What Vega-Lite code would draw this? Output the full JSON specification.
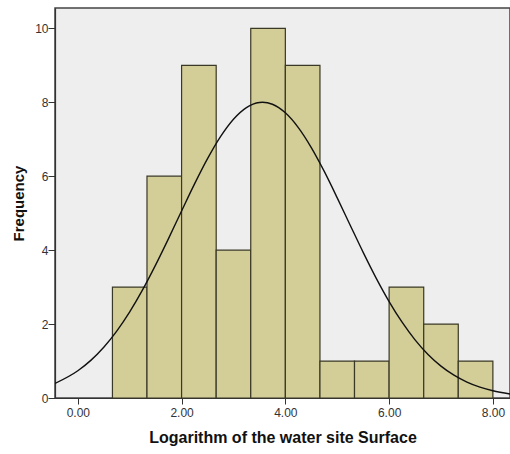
{
  "$schema": "https://vega.github.io/schema/vega-lite/v6.json",
  "width": 455,
  "height": 390,
  "autosize": {"type": "none"},
  "padding": {"left": 55, "top": 8, "right": 0, "bottom": 56},
  "background": "#ffffff",
  "config": {
    "font": "Liberation Sans",
    "view": {"fill": "#eeeeee", "stroke": "#444444", "strokeWidth": 1.5},
    "axis": {
      "grid": false,
      "domainColor": "#333333",
      "domainWidth": 1.2,
      "tickColor": "#333333",
      "tickSize": 6,
      "labelColor": "#333333",
      "labelFont": "Liberation Sans",
      "labelFontSize": 12,
      "titleFont": "Liberation Sans",
      "titleFontWeight": "bold",
      "titleColor": "#111111",
      "titleFontSize": 16
    }
  },
  "datasets": {
    "bins": [
      {"bin_start": 0.667, "bin_end": 1.333, "count": 3},
      {"bin_start": 1.333, "bin_end": 2.0, "count": 6},
      {"bin_start": 2.0, "bin_end": 2.667, "count": 9},
      {"bin_start": 2.667, "bin_end": 3.333, "count": 4},
      {"bin_start": 3.333, "bin_end": 4.0, "count": 10},
      {"bin_start": 4.0, "bin_end": 4.667, "count": 9},
      {"bin_start": 4.667, "bin_end": 5.333, "count": 1},
      {"bin_start": 5.333, "bin_end": 6.0, "count": 1},
      {"bin_start": 6.0, "bin_end": 6.667, "count": 3},
      {"bin_start": 6.667, "bin_end": 7.333, "count": 2},
      {"bin_start": 7.333, "bin_end": 8.0, "count": 1}
    ],
    "normal": [
      {"x": -0.44, "y": 0.394},
      {"x": 0.0, "y": 0.737},
      {"x": 0.25, "y": 1.018},
      {"x": 0.5, "y": 1.374},
      {"x": 0.75, "y": 1.81},
      {"x": 1.0, "y": 2.33},
      {"x": 1.25, "y": 2.93},
      {"x": 1.5, "y": 3.6},
      {"x": 1.75, "y": 4.318},
      {"x": 2.0, "y": 5.06},
      {"x": 2.25, "y": 5.792},
      {"x": 2.5, "y": 6.475},
      {"x": 2.75, "y": 7.071},
      {"x": 3.0, "y": 7.542},
      {"x": 3.25, "y": 7.857},
      {"x": 3.5, "y": 7.995},
      {"x": 3.56, "y": 8.0},
      {"x": 3.75, "y": 7.946},
      {"x": 4.0, "y": 7.714},
      {"x": 4.25, "y": 7.314},
      {"x": 4.5, "y": 6.774},
      {"x": 4.75, "y": 6.129},
      {"x": 5.0, "y": 5.415},
      {"x": 5.25, "y": 4.674},
      {"x": 5.5, "y": 3.94},
      {"x": 5.75, "y": 3.244},
      {"x": 6.0, "y": 2.609},
      {"x": 6.25, "y": 2.05},
      {"x": 6.5, "y": 1.573},
      {"x": 6.75, "y": 1.178},
      {"x": 7.0, "y": 0.863},
      {"x": 7.25, "y": 0.617},
      {"x": 7.5, "y": 0.431},
      {"x": 7.75, "y": 0.294},
      {"x": 8.0, "y": 0.196},
      {"x": 8.33, "y": 0.11}
    ]
  },
  "layer": [
    {
      "data": {"name": "bins"},
      "mark": {"type": "rect", "fill": "#d3cd98", "stroke": "#3a3826", "strokeWidth": 1.2},
      "encoding": {
        "x": {
          "field": "bin_start",
          "type": "quantitative",
          "scale": {"domain": [-0.44, 8.33], "nice": false, "zero": false},
          "axis": {
            "title": "Logarithm of the water site Surface",
            "values": [0, 2, 4, 6, 8],
            "format": ".2f",
            "labelPadding": 3,
            "titlePadding": 11
          }
        },
        "x2": {"field": "bin_end"},
        "y": {
          "field": "count",
          "type": "quantitative",
          "scale": {"domain": [0, 10.55], "nice": false},
          "axis": {
            "title": "Frequency",
            "titleFontSize": 15,
            "values": [0, 2, 4, 6, 8, 10],
            "tickSize": 7,
            "labelPadding": 0,
            "titlePadding": 8
          }
        },
        "y2": {"datum": 0}
      }
    },
    {
      "data": {"name": "normal"},
      "mark": {"type": "line", "color": "#111111", "strokeWidth": 1.4, "interpolate": "monotone", "clip": true},
      "encoding": {
        "x": {"field": "x", "type": "quantitative"},
        "y": {"field": "y", "type": "quantitative"}
      }
    }
  ]
}
